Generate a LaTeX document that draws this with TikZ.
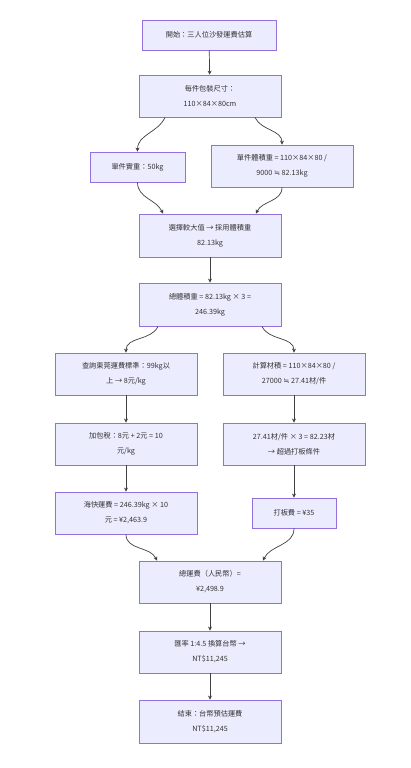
\documentclass[tikz,border=0pt]{standalone}
\usepackage{fontspec}
\setmainfont{Noto Sans CJK TC}
\newfontfamily\symf{DejaVu Sans}
\usetikzlibrary{arrows.meta}
\begin{document}
\begin{tikzpicture}[x=1pt,y=-1pt,
  box/.style={draw=mmborder,fill=mmfill,line width=0.8pt,align=center,inner sep=0pt,
    font=\fontsize{7.2}{15}\selectfont,text=black!80},
  conn/.style={draw=black!75,line width=0.7pt,-{Stealth[length=4pt,width=4pt]}}]
\definecolor{mmfill}{HTML}{ECECFF}
\definecolor{mmborder}{HTML}{9370DB}
\useasboundingbox (0,0) rectangle (411,768);
\fill[white] (0,0) rectangle (411,768);
\node[box,minimum width=134pt,minimum height=30pt] (n1) at (209,35) {開始：三人位沙發運費估算};
\node[box,minimum width=142pt,minimum height=42pt] (n2) at (210,96) {每件包裝尺寸：\\110×84×80cm};
\node[box,minimum width=95pt,minimum height=30pt] (n3) at (137.5,167) {單件實重：50kg};
\node[box,minimum width=142pt,minimum height=42pt] (n4) at (282,166) {單件體積重 = 110×84×80 /\\9000 {\symf ≒} 82.13kg};
\node[box,minimum width=142pt,minimum height=43pt] (n5) at (210,235.5) {選擇較大值 → 採用體積重\\82.13kg};
\node[box,minimum width=142pt,minimum height=43pt] (n6) at (210,304.5) {總體積重 = 82.13kg × 3 =\\246.39kg};
\node[box,minimum width=142pt,minimum height=42pt] (n7) at (126,374) {查詢東莞運費標準：99kg以\\上 → 8元/kg};
\node[box,minimum width=142pt,minimum height=42pt] (n8) at (294,374) {計算材積 = 110×84×80 /\\27000 {\symf ≒} 27.41材/件};
\node[box,minimum width=142pt,minimum height=42pt] (n9) at (126,444) {加包稅：8元 + 2元 = 10\\元/kg};
\node[box,minimum width=142pt,minimum height=42pt] (n10) at (294,444) {27.41材/件 × 3 = 82.23材\\→ 超過打板條件};
\node[box,minimum width=142pt,minimum height=42pt] (n11) at (126,513) {海快運費 = 246.39kg × 10\\元 = ¥2,463.9};
\node[box,minimum width=84pt,minimum height=30pt] (n12) at (294,513) {打板費 = ¥35};
\node[box,minimum width=142pt,minimum height=42pt] (n13) at (210,582) {總運費（人民幣）=\\¥2,498.9};
\node[box,minimum width=142pt,minimum height=42pt] (n14) at (210,652) {匯率 1:4.5 換算台幣 →\\NT\$11,245};
\node[box,minimum width=142pt,minimum height=43pt] (n15) at (210,721.5) {結束：台幣預估運費\\NT\$11,245};
\draw[conn] (n1) -- (n2);
\draw[conn] ([xshift=-45pt]n2.south) to[out=-115,in=90] (n3.north);
\draw[conn] ([xshift=45pt]n2.south) to[out=-65,in=90] (n4.north);
\draw[conn] (n3.south) to[out=-90,in=115] ([xshift=-47pt]n5.north);
\draw[conn] (n4.south) to[out=-90,in=65] ([xshift=46pt]n5.north);
\draw[conn] (n5) -- (n6);
\draw[conn] ([xshift=-52pt]n6.south) to[out=-115,in=90] (n7.north);
\draw[conn] ([xshift=52pt]n6.south) to[out=-65,in=90] (n8.north);
\draw[conn] (n7) -- (n9);
\draw[conn] (n8) -- (n10);
\draw[conn] (n9) -- (n11);
\draw[conn] (n10) -- (n12);
\draw[conn] (n11.south) to[out=-90,in=115] ([xshift=-53pt]n13.north);
\draw[conn] (n12.south) to[out=-90,in=65] ([xshift=53pt]n13.north);
\draw[conn] (n13) -- (n14);
\draw[conn] (n14) -- (n15);
\end{tikzpicture}
\end{document}
